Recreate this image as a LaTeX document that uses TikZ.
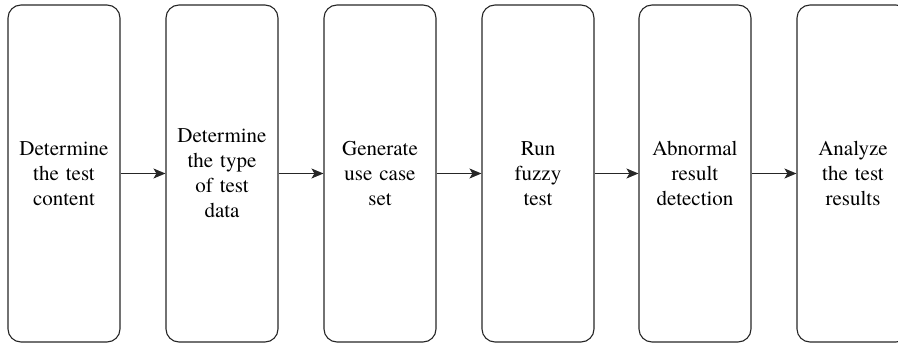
\documentclass[tikz,border=0pt]{standalone}
\usepackage{fontspec}
\setmainfont{TeX Gyre Termes}
\usetikzlibrary{arrows.meta}
\begin{document}
\begin{tikzpicture}[x=1pt,y=-1pt,
  stage/.style={draw=black!85, line width=1.1pt, rounded corners=13pt,
    minimum width=112pt, minimum height=337pt, inner sep=0pt,
    align=center, text width=104pt,
    font=\rmfamily\fontsize{21}{25}\selectfont},
  flow/.style={draw=black!85, line width=1pt,
    -{Stealth[length=12pt,width=10pt,inset=3pt]}}]
  \useasboundingbox (0,0) rectangle (898,347);
  \clip (0,0) rectangle (898,347);
  \node[stage] (s1) at (64,173.5)  {Determine\\the test\\content};
  \node[stage] (s2) at (222,173.5) {Determine\\the type\\of test\\data};
  \node[stage] (s3) at (380,173.5) {Generate\\use case\\set};
  \node[stage] (s4) at (538,173.5) {Run\\fuzzy\\test};
  \node[stage] (s5) at (695,173.5) {Abnormal\\result\\detection};
  \node[stage] (s6) at (853,173.5) {Analyze\\the test\\results};
  \foreach \a/\b in {s1/s2,s2/s3,s3/s4,s4/s5,s5/s6}
    \draw[flow] (\a) -- (\b);
\end{tikzpicture}
\end{document}
